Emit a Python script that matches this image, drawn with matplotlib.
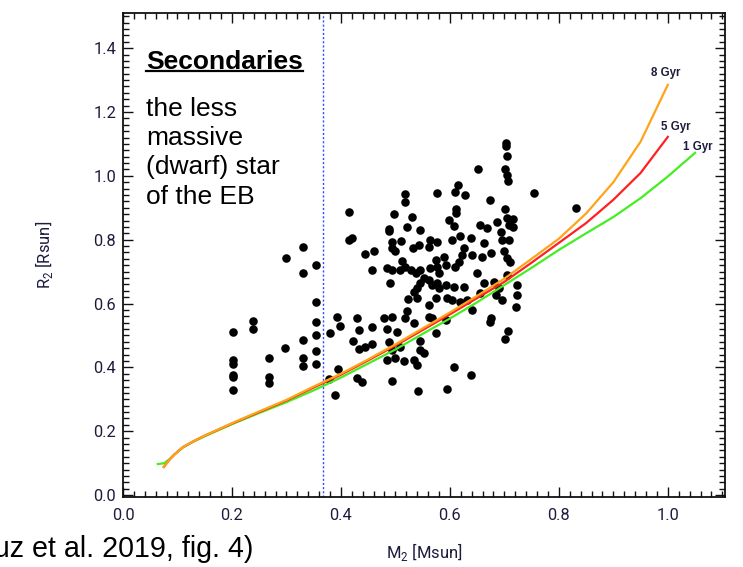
import matplotlib
matplotlib.use('Agg')
import matplotlib.pyplot as plt
from matplotlib.lines import Line2D
from matplotlib.ticker import MultipleLocator

# Observed secondaries: mass [Msun] and radius [Rsun]
m2_obs = [
    0.330, 0.300, 0.355, 0.330, 0.355, 0.238, 0.238, 0.202, 0.355, 0.393,
    0.399, 0.380, 0.355, 0.330, 0.297, 0.355, 0.268, 0.330, 0.330, 0.355,
    0.202, 0.202, 0.202, 0.202, 0.268, 0.268, 0.202, 0.395, 0.379, 0.390,
    0.517, 0.517, 0.576, 0.414, 0.497, 0.531, 0.488, 0.522, 0.546,
    0.703, 0.703, 0.704, 0.651, 0.701, 0.705, 0.706, 0.754, 0.615, 0.610,
    0.627, 0.673, 0.612, 0.612, 0.598, 0.607, 0.701, 0.705, 0.715, 0.687,
    0.656, 0.669, 0.708, 0.715,
    0.488, 0.414, 0.420, 0.494, 0.510, 0.494, 0.500, 0.533, 0.543, 0.561,
    0.564, 0.577, 0.445, 0.461, 0.457, 0.485, 0.494, 0.509, 0.512, 0.518,
    0.528, 0.537, 0.546, 0.564, 0.574, 0.577, 0.580, 0.552, 0.546, 0.540,
    0.561, 0.567, 0.577, 0.580, 0.491, 0.534, 0.524, 0.540, 0.574, 0.561,
    0.522, 0.430, 0.479, 0.494, 0.518, 0.561,
    0.693, 0.604, 0.619, 0.638, 0.662, 0.696, 0.708, 0.626, 0.623, 0.641,
    0.659, 0.675, 0.699, 0.705, 0.711, 0.589, 0.592, 0.610, 0.616, 0.592,
    0.607, 0.626, 0.650, 0.662, 0.681, 0.690, 0.705, 0.724, 0.724, 0.721,
    0.595, 0.604, 0.619, 0.632, 0.656, 0.684, 0.696, 0.641, 0.675,
    0.534, 0.567, 0.433, 0.457, 0.485, 0.503, 0.574, 0.423, 0.433, 0.445,
    0.457, 0.488, 0.494, 0.509, 0.546, 0.546, 0.552, 0.485, 0.500, 0.515,
    0.534, 0.540, 0.430, 0.439, 0.494, 0.541,
    0.592, 0.673, 0.706, 0.702, 0.608, 0.638, 0.595, 0.831,
]
r2_obs = [
    0.776, 0.744, 0.721, 0.695, 0.605, 0.545, 0.521, 0.512, 0.543, 0.559,
    0.529, 0.509, 0.501, 0.487, 0.461, 0.450, 0.430, 0.430, 0.405, 0.410,
    0.423, 0.411, 0.375, 0.369, 0.369, 0.350, 0.329, 0.395, 0.363, 0.313,
    0.944, 0.919, 0.946, 0.887, 0.882, 0.871, 0.834, 0.841, 0.831,
    1.104, 1.094, 1.063, 1.021, 1.022, 1.003, 0.984, 0.945, 0.971, 0.948,
    0.939, 0.925, 0.896, 0.885, 0.862, 0.843, 0.896, 0.867, 0.864, 0.855,
    0.846, 0.836, 0.846, 0.841,
    0.828, 0.799, 0.805, 0.794, 0.796, 0.773, 0.765, 0.773, 0.784, 0.778,
    0.799, 0.792, 0.755, 0.765, 0.705, 0.711, 0.705, 0.705, 0.734, 0.716,
    0.705, 0.695, 0.705, 0.711, 0.737, 0.716, 0.695, 0.679, 0.664, 0.648,
    0.674, 0.658, 0.664, 0.648, 0.664, 0.637, 0.614, 0.617, 0.618, 0.596,
    0.577, 0.556, 0.556, 0.559, 0.554, 0.559,
    0.825, 0.799, 0.810, 0.805, 0.789, 0.799, 0.799, 0.773, 0.752, 0.752,
    0.747, 0.758, 0.763, 0.742, 0.731, 0.747, 0.721, 0.716, 0.731, 0.658,
    0.653, 0.653, 0.695, 0.664, 0.669, 0.648, 0.690, 0.658, 0.627, 0.590,
    0.617, 0.611, 0.606, 0.611, 0.632, 0.627, 0.611, 0.580, 0.554,
    0.538, 0.554, 0.517, 0.528, 0.520, 0.512, 0.507, 0.483, 0.457, 0.463,
    0.472, 0.481, 0.455, 0.465, 0.483, 0.455, 0.444, 0.423, 0.429, 0.420,
    0.423, 0.408, 0.368, 0.355, 0.357, 0.326,
    0.549, 0.541, 0.514, 0.489, 0.402, 0.376, 0.332, 0.899,
]

# Isochrones (mass, radius)
iso8_m = [0.075, 0.085, 0.095, 0.11, 0.13, 0.15, 0.20, 0.25, 0.30, 0.35,
          0.40, 0.45, 0.50, 0.55, 0.60, 0.65, 0.70, 0.75, 0.80, 0.85,
          0.90, 0.95, 1.00]
iso8_r = [0.088, 0.110, 0.128, 0.150, 0.169, 0.186, 0.225, 0.262, 0.298, 0.340,
          0.380, 0.425, 0.472, 0.522, 0.572, 0.624, 0.678, 0.740, 0.803, 0.882,
          0.980, 1.107, 1.285]
iso5_m = [0.075, 0.085, 0.095, 0.11, 0.13, 0.15, 0.20, 0.25, 0.30, 0.35,
          0.40, 0.45, 0.50, 0.55, 0.60, 0.65, 0.70, 0.75, 0.80, 0.85,
          0.90, 0.95, 1.00]
iso5_r = [0.088, 0.110, 0.128, 0.150, 0.169, 0.186, 0.224, 0.260, 0.296, 0.337,
          0.377, 0.422, 0.468, 0.517, 0.566, 0.617, 0.668, 0.728, 0.790, 0.852,
          0.925, 1.009, 1.122]
iso1_m = [0.064, 0.076, 0.085, 0.095, 0.11, 0.13, 0.15, 0.20, 0.25, 0.30,
          0.35, 0.40, 0.45, 0.50, 0.55, 0.60, 0.65, 0.70, 0.75, 0.80,
          0.85, 0.90, 0.95, 1.00, 1.05]
iso1_r = [0.097, 0.100, 0.112, 0.128, 0.149, 0.168, 0.184, 0.222, 0.257, 0.291,
          0.328, 0.368, 0.412, 0.456, 0.505, 0.553, 0.604, 0.658, 0.712, 0.768,
          0.820, 0.871, 0.930, 0.998, 1.072]

iso_labels = ['8 Gyr', '5 Gyr', '1 Gyr']
iso_label_pos = [(0.969, 1.323), (0.987, 1.154), (1.028, 1.091)]

mass_cut = 0.368

plt.rcParams['font.family'] = ['Roboto', 'DejaVu Sans']

fig = plt.figure(figsize=(7.43, 5.67), dpi=100)
ax = fig.add_axes([0.1655, 0.1235, 0.8103, 0.8535])

ax.scatter(m2_obs, r2_obs, s=38, color='black', zorder=3, linewidths=0)
ax.plot(iso1_m, iso1_r, color='#44ee22', lw=1.6, zorder=4)
ax.plot(iso5_m, iso5_r, color='#ff2020', lw=1.6, zorder=5)
ax.plot(iso8_m, iso8_r, color='#ffa31a', lw=1.6, zorder=6)
ax.axvline(mass_cut, color='#2b4bff', lw=1.0, ls=(0, (1.5, 1.5)), zorder=2)

lab_col = '#1c1c3c'
for lab, (lx, ly) in zip(iso_labels, iso_label_pos):
    ax.text(lx, ly, lab, fontsize=8.3, fontweight='bold', color=lab_col,
            ha='left', va='center', family=['Liberation Sans', 'DejaVu Sans'])

ax.set_xlim(0.0, 1.105)
ax.set_ylim(-0.006, 1.51)

ax.xaxis.set_major_locator(MultipleLocator(0.2))
ax.xaxis.set_minor_locator(MultipleLocator(0.02))
ax.yaxis.set_major_locator(MultipleLocator(0.2))
ax.yaxis.set_minor_locator(MultipleLocator(0.02))
ax.xaxis.set_major_formatter(lambda v, p: f'{v:.1f}')
ax.yaxis.set_major_formatter(lambda v, p: f'{v:.1f}')
ax.tick_params(which='both', direction='in', top=True, right=True,
               color='#111111', width=1.0, labelsize=11.8, labelcolor=lab_col)
ax.tick_params(which='major', length=7)
ax.tick_params(which='minor', length=4.2)
ax.tick_params(axis='x', pad=8)
ax.tick_params(axis='y', pad=5)
for sp in ax.spines.values():
    sp.set_linewidth(1.3)
    sp.set_color('#111111')

ax.set_xlabel(r'M$_{\mathregular{2}}$ [Msun]', fontsize=12, color=lab_col)
ax.set_ylabel(r'R$_{\mathregular{2}}$ [Rsun]', fontsize=12, color=lab_col)
ax.xaxis.set_label_coords(0.5, -0.09)
ax.yaxis.set_label_coords(-0.113, 0.5)

ann_font = ['Liberation Sans', 'DejaVu Sans']
sec = ax.text(0.042, 1.335, 'Secondaries', fontsize=19, fontweight='bold',
              ha='left', va='baseline', family=ann_font)
ax.text(0.042, 1.248, 'the less\nmassive\n(dwarf) star\nof the EB',
        fontsize=19, ha='left', va='top', linespacing=1.28, family=ann_font)
fig.text(253 / 743, 1 - 557 / 567, '(Cruz et al. 2019, fig. 4)', fontsize=20.6,
         ha='right', va='baseline', family=ann_font)

# underline the heading
fig.canvas.draw()
bb = sec.get_window_extent()
base_px = ax.transData.transform((0.042, 1.335))[1]
inv = fig.transFigure.inverted()
p0 = inv.transform((bb.x0, base_px - 2.0))
p1 = inv.transform((bb.x1, base_px - 2.0))
fig.add_artist(Line2D([p0[0], p1[0]], [p0[1], p1[1]], color='black', lw=1.6))

fig.savefig('out.png', dpi=100)
